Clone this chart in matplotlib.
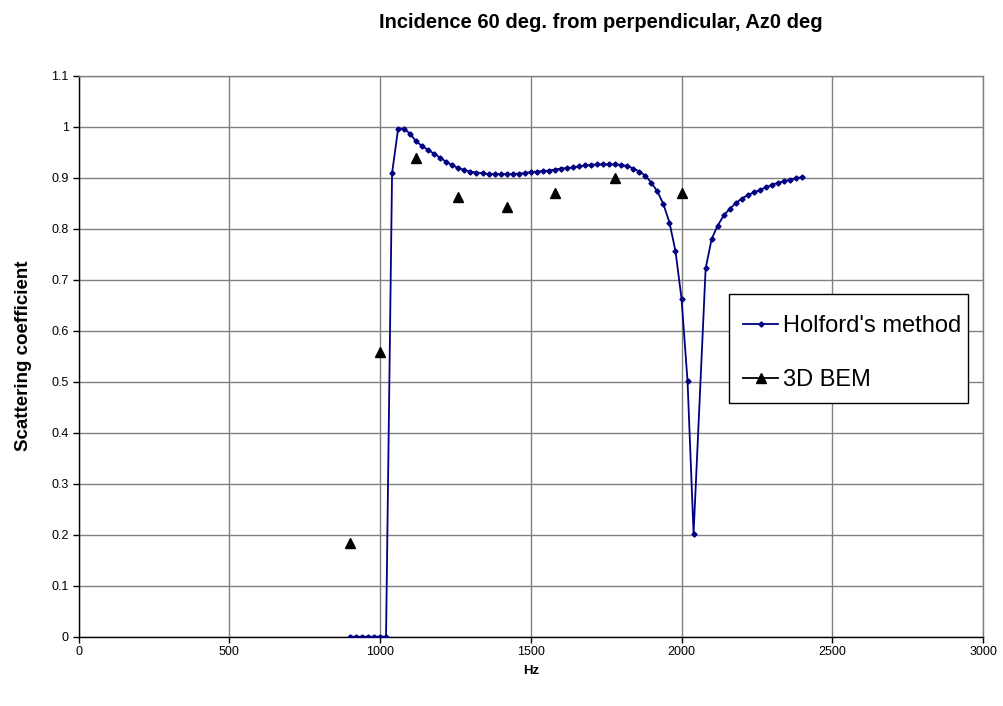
import matplotlib
matplotlib.use('Agg')
import matplotlib.pyplot as plt
from matplotlib.lines import Line2D
from matplotlib.patches import Rectangle

plt.rcParams['font.family'] = ['Liberation Sans', 'DejaVu Sans']

# Holford's method (navy line with small markers)
holford_hz = [900, 920, 940, 960, 980, 1000, 1020, 1040, 1060, 1080,
              1100, 1120, 1140, 1160, 1180, 1200, 1220, 1240, 1260, 1280,
              1300, 1320, 1340, 1360, 1380, 1400, 1420, 1440, 1460, 1480,
              1500, 1520, 1540, 1560, 1580, 1600, 1620, 1640, 1660, 1680,
              1700, 1720, 1740, 1760, 1780, 1800, 1820, 1840, 1860, 1880,
              1900, 1920, 1940, 1960, 1980, 2000, 2020, 2040, 2080, 2100,
              2120, 2140, 2160, 2180, 2200, 2220, 2240, 2260, 2280, 2300,
              2320, 2340, 2360, 2380, 2400]
holford_s = [0, 0, 0, 0, 0, 0, 0, 0.909, 0.996, 0.996,
             0.986, 0.971, 0.962, 0.954, 0.947, 0.939, 0.931, 0.924, 0.919, 0.915,
             0.912, 0.910, 0.909, 0.907, 0.907, 0.907, 0.907, 0.907, 0.908, 0.909,
             0.911, 0.912, 0.913, 0.914, 0.916, 0.918, 0.919, 0.920, 0.922, 0.924,
             0.925, 0.926, 0.926, 0.926, 0.926, 0.925, 0.923, 0.918, 0.912, 0.904,
             0.890, 0.873, 0.848, 0.812, 0.756, 0.663, 0.501, 0.202, 0.722, 0.780,
             0.806, 0.826, 0.839, 0.850, 0.859, 0.866, 0.871, 0.876, 0.881, 0.886,
             0.890, 0.893, 0.896, 0.899, 0.901]

# 3D BEM (black triangles)
bem_hz = [900, 1000, 1120, 1260, 1420, 1580, 1780, 2000]
bem_s = [0.183, 0.558, 0.938, 0.862, 0.843, 0.869, 0.899, 0.869]

x_ticks = [0, 500, 1000, 1500, 2000, 2500, 3000]
y_ticks = [0, 0.1, 0.2, 0.3, 0.4, 0.5, 0.6, 0.7, 0.8, 0.9, 1, 1.1]
y_ticklabels = ['0', '0.1', '0.2', '0.3', '0.4', '0.5', '0.6', '0.7', '0.8', '0.9', '1', '1.1']

fig = plt.figure(figsize=(10.04, 7.06), dpi=100)
ax = fig.add_axes([0.0782, 0.0982, 0.9009, 0.7946])

ax.plot(holford_hz, holford_s, color='#000080', lw=1.3, marker='D', ms=2.6,
        zorder=3)
ax.plot(bem_hz, bem_s, ls='none', marker='^', color='black', ms=7.5, zorder=4)

ax.set_xlim(0, 3000)
ax.set_ylim(0, 1.1)
ax.set_xticks(x_ticks)
ax.set_yticks(y_ticks)
ax.set_yticklabels(y_ticklabels)
ax.grid(True, color='#808080', lw=1)
ax.set_axisbelow(True)
ax.tick_params(labelsize=9, length=4, width=1, color='black', pad=3)
for s in ['left', 'bottom']:
    ax.spines[s].set_color('black')
    ax.spines[s].set_linewidth(1)
for s in ['top', 'right']:
    ax.spines[s].set_color('#808080')
    ax.spines[s].set_linewidth(1)

ax.set_xlabel('Hz', fontsize=9.5, fontweight='bold', labelpad=5)
ax.set_ylabel('Scattering coefficient', fontsize=13.5, fontweight='bold', labelpad=14)
fig.text(0.598, 0.968, 'Incidence 60 deg. from perpendicular, Az0 deg',
         fontsize=14.5, fontweight='bold', ha='center', va='center')

# legend box drawn separately so its size matches the original
fig.patches.append(Rectangle((729 / 1004, 1 - 403 / 706), 239 / 1004, 109 / 706,
                             transform=fig.transFigure, facecolor='white',
                             edgecolor='black', lw=1, zorder=5))
handles = [Line2D([], [], color='#000080', lw=1.3, marker='D', ms=2.6),
           Line2D([], [], color='black', lw=1.3, marker='^', ms=7.5)]
leg = fig.legend(handles, ["Holford's method", '3D BEM'],
                 loc='upper left', bbox_to_anchor=(743 / 1004, 1 - 315 / 706),
                 fontsize=17, frameon=False,
                 handlelength=1.5, handletextpad=0.2, labelspacing=1.35,
                 borderpad=0, borderaxespad=0)
leg.set_zorder(10)

plt.savefig('out.png', dpi=100)
